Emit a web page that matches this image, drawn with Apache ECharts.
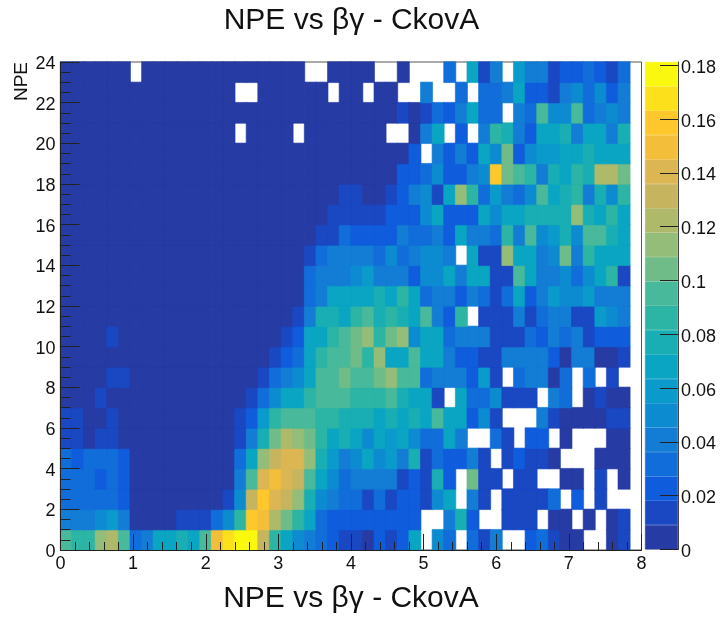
<!DOCTYPE html>
<html>
<head>
<meta charset="utf-8">
<style>html,body{margin:0;padding:0;background:#fff}#chart{width:723px;height:619px}</style>
<script src="https://cdn.jsdelivr.net/npm/echarts@6/dist/echarts.min.js"></script>
</head>
<body>
<div id="chart"></div>
<script>
const _ = null;
const chartTitle = 'NPE vs βγ - CkovA';
const yTitle = 'NPE';
const colorTicks = [0, 0.02, 0.04, 0.06, 0.08, 0.1, 0.12, 0.14, 0.16, 0.18];
const colorBands = ['#263ba4','#1a47c2','#0f5cdc','#116dd9','#137cd5','#0d8bd1','#0a9acc','#0aa5c2','#18aeb3','#2cb4a4',
                    '#48b99a','#6fbc88','#93bd78','#aeb96a','#c7b45f','#dcb652','#f3bf3b','#fec72b','#fbe01b','#faf80f'];
const bandStep = 0.00906;
const xBinCount = 50;
// bin contents in thousandths, one list per NPE row from the bottom, 0 <= betaGamma < 7.84
const row0 = [95,86,86,113,122,95,32,41,64,64,77,68,95,149,167,176,176,131,86,68,50,45,32,23,14,14,5,23,14,23,64,_,50,32,_,32,14,41,_,_,23,32,14,5,5,_,_,5,14];
const row1 = [45,45,45,50,59,41,5,5,5,5,14,14,14,32,50,86,158,149,122,104,86,64,32,23,23,23,23,23,23,23,23,_,_,45,77,23,_,_,14,14,14,_,5,5,_,5,_,5,14];
const row2 = [32,32,32,32,32,23,5,5,5,5,5,5,5,5,14,50,131,158,140,131,113,77,50,45,32,32,14,32,14,23,23,14,50,64,_,45,14,_,14,14,14,14,32,_,23,_,14,_,_];
const row3 = [32,32,32,23,32,23,5,5,5,5,5,5,5,5,5,41,95,140,149,140,131,95,64,50,32,45,41,41,41,14,23,14,77,23,_,104,14,14,_,14,14,_,_,5,5,_,14,_,5];
const row4 = [32,23,32,32,32,23,5,5,5,5,5,5,5,5,5,32,68,113,131,140,140,113,77,59,45,50,64,50,59,45,77,14,32,23,23,45,14,_,14,23,14,14,5,_,_,_,5,5,5];
const row5 = [14,14,5,14,14,5,5,5,5,5,5,5,5,5,5,14,45,77,104,122,113,104,86,68,77,64,50,68,59,68,50,32,32,64,41,_,_,32,14,_,23,23,_,5,_,_,_,5,5];
const row6 = [14,14,5,5,14,5,5,5,5,5,5,5,5,5,5,14,23,59,86,95,95,95,86,86,77,77,77,68,77,68,77,68,95,68,68,23,50,14,_,_,_,41,14,5,5,5,5,14,14];
const row7 = [5,5,5,14,5,5,5,5,5,5,5,5,5,5,5,5,14,32,50,64,68,86,95,95,95,86,86,86,95,77,68,68,14,_,68,32,32,50,14,14,14,_,41,32,_,5,14,5,5];
const row8 = [5,5,5,5,14,14,5,5,5,5,5,5,5,5,5,5,5,14,32,45,50,68,95,95,104,95,95,104,113,95,95,32,45,41,45,23,59,14,_,32,45,41,5,32,_,32,_,14,_];
const row9 = [5,5,5,5,5,5,5,5,5,5,5,5,5,5,5,5,5,5,14,23,32,64,86,95,95,104,86,113,68,64,95,68,64,45,23,23,14,14,45,45,45,41,23,5,41,41,5,5,14];
const row10 = [5,5,5,5,14,5,5,5,5,5,5,5,5,5,5,5,5,5,5,14,23,64,68,86,95,104,113,86,104,113,50,68,64,32,45,45,41,14,14,14,32,23,45,32,41,14,23,23,23];
const row11 = [5,5,5,5,5,5,5,5,5,5,5,5,5,5,5,5,5,5,5,5,14,41,77,77,68,86,95,77,86,77,64,95,41,23,86,_,14,14,14,45,14,32,41,41,14,14,59,50,41];
const row12 = [5,5,5,5,5,5,5,5,5,5,5,5,5,5,5,5,5,5,5,5,5,32,45,68,68,64,64,77,68,86,64,32,45,41,23,41,32,14,32,64,23,45,59,50,50,59,41,41,41];
const row13 = [5,5,5,5,5,5,5,5,5,5,5,5,5,5,5,5,5,5,5,5,5,32,45,45,45,50,59,45,41,45,23,50,50,64,45,68,68,14,14,95,68,45,45,50,32,50,68,86,14];
const row14 = [5,5,5,5,5,5,5,5,5,5,5,5,5,5,5,5,5,5,5,5,5,14,32,41,41,45,45,32,50,32,45,50,50,41,_,68,14,14,113,68,68,41,50,104,45,86,64,68,68];
const row15 = [5,5,5,5,5,5,5,5,5,5,5,5,5,5,5,5,5,5,5,5,5,5,14,14,32,23,23,23,23,45,32,32,45,23,68,41,45,32,86,41,95,50,59,77,50,95,95,77,68];
const row16 = [5,5,5,5,5,5,5,5,5,5,5,5,5,5,5,5,5,5,5,5,5,5,5,14,14,14,14,14,23,23,23,50,64,23,23,23,68,50,64,64,77,77,77,77,113,77,68,86,68];
const row17 = [5,5,5,5,5,5,5,5,5,5,5,5,5,5,5,5,5,5,5,5,5,5,5,5,14,14,5,5,14,23,45,50,14,64,113,86,32,59,41,32,50,95,68,77,86,45,77,50,86];
const row18 = [5,5,5,5,5,5,5,5,5,5,5,5,5,5,5,5,5,5,5,5,5,5,5,5,5,5,5,5,5,23,23,32,50,23,23,41,50,158,104,95,86,41,77,64,86,77,122,122,104];
const row19 = [5,5,5,5,5,5,5,5,5,5,5,5,5,5,5,5,5,5,5,5,5,5,5,5,5,5,5,5,5,5,23,_,41,23,41,23,64,50,104,23,50,59,59,68,68,77,64,68,64];
const row20 = [5,5,5,5,5,5,5,5,5,5,5,5,5,5,5,_,5,5,5,5,_,5,5,5,5,5,5,5,_,_,5,41,64,_,23,_,45,86,77,41,23,64,68,77,45,68,64,41,77];
const row21 = [5,5,5,5,5,5,5,5,5,5,5,5,5,5,5,5,5,5,5,5,5,5,5,5,5,5,5,5,5,14,5,14,32,23,45,68,32,32,_,41,32,95,50,50,95,32,41,50,41];
const row22 = [5,5,5,5,5,5,5,5,5,5,5,5,5,5,5,_,_,5,5,5,5,5,5,_,5,5,_,5,5,_,_,41,_,_,32,_,32,32,45,68,23,23,14,41,50,32,50,23,45];
const row23 = [5,5,5,5,5,5,_,5,5,5,5,5,5,5,5,5,5,5,5,5,5,_,_,5,5,5,5,_,_,5,_,_,_,32,_,68,14,41,_,59,41,41,14,23,23,32,23,14,32];
const rows = [row0,row1,row2,row3,row4,row5,row6,row7,row8,row9,row10,row11,row12,row13,row14,row15,row16,row17,row18,row19,row20,row21,row22,row23];

const cells = [];
rows.forEach((row, r) => row.forEach((v, c) => { if (v !== null) cells.push([c, r, v / 1000]); }));
const xBins = Array.from({length: xBinCount}, (_, i) => i);
const yBins = rows.map((_, i) => i);
const pieces = colorBands.map((color, i) => ({gte: i * bandStep, lt: (i + 1) * bandStep, color}));
const labelFont = {fontFamily: '"Liberation Sans", Arial, sans-serif', fontSize: 18, color: '#111'};
const titleFont = {fontFamily: '"Liberation Sans", Arial, sans-serif', fontSize: 30, color: '#111', fontWeight: 'normal'};
const axisInk = {lineStyle: {color: '#222', width: 1}};

const option = {
  animation: false,
  backgroundColor: '#fff',
  title: {text: chartTitle, left: 346.5, top: 1, textAlign: 'center', textStyle: titleFont},
  grid: [
    {left: 60.5, right: 81.5, top: 62, bottom: 69, show: true, borderColor: '#555', borderWidth: 1, backgroundColor: '#fff'},
    {left: 645, width: 33, top: 62, bottom: 69.5}
  ],
  visualMap: {type: 'piecewise', show: false, seriesIndex: 0, dimension: 2, pieces},
  xAxis: [
    {type: 'category', gridIndex: 0, data: xBins, show: false, position: 'top'},
    {type: 'value', gridIndex: 0, min: 0, max: 8, interval: 1, z: 10, position: 'bottom',
     name: chartTitle, nameLocation: 'middle', nameGap: 34, nameTextStyle: titleFont,
     axisLine: {show: true, ...axisInk},
     axisTick: {show: true, inside: true, length: 16, ...axisInk},
     minorTick: {show: true, splitNumber: 5, length: 8, ...axisInk},
     splitLine: {show: false}, axisLabel: {...labelFont, margin: 5}},
    {type: 'category', gridIndex: 1, data: ['bar'], show: false}
  ],
  yAxis: [
    {type: 'category', gridIndex: 0, data: yBins, show: false, position: 'right'},
    {type: 'value', gridIndex: 0, min: 0, max: 24, interval: 2, z: 10, position: 'left',
     name: yTitle, nameLocation: 'end', nameRotate: 90, nameGap: 0,
     nameTextStyle: {fontFamily: labelFont.fontFamily, fontSize: 19, color: '#111', align: 'right', verticalAlign: 'bottom', padding: [0, 0, 29, 0]},
     axisLine: {show: true, ...axisInk},
     axisTick: {show: true, inside: true, length: 19, ...axisInk},
     minorTick: {show: true, splitNumber: 4, length: 10, ...axisInk},
     splitLine: {show: false}, axisLabel: {...labelFont, margin: 5, verticalAlign: 'top', lineHeight: 4}},
    {type: 'value', gridIndex: 1, min: 0, max: bandStep * colorBands.length, position: 'right', z: 10,
     axisLine: {show: true, lineStyle: {color: '#444', width: 1}},
     axisTick: {show: true, inside: true, length: 18, customValues: colorTicks, ...axisInk},
     splitLine: {show: false},
     axisLabel: {...labelFont, margin: 3, verticalAlign: 'top', lineHeight: 5, customValues: colorTicks, formatter: v => String(v)}}
  ],
  series: [
    {type: 'heatmap', xAxisIndex: 0, yAxisIndex: 0, emphasis: {disabled: true},
     data: cells.map(cell => ({
       value: cell,
       itemStyle: {borderWidth: 0.6, borderColor: colorBands[Math.floor(cell[2] / bandStep)]}
     }))},
    ...colorBands.map(color => ({
      type: 'bar', stack: 'palette', xAxisIndex: 2, yAxisIndex: 2, barWidth: '100%',
      data: [bandStep], silent: true,
      itemStyle: {color, borderColor: color, borderWidth: 0.6}
    }))
  ]
};
const chart = echarts.init(document.getElementById('chart'), null, {renderer: 'canvas'});
chart.setOption(option);
</script>
</body>
</html>
